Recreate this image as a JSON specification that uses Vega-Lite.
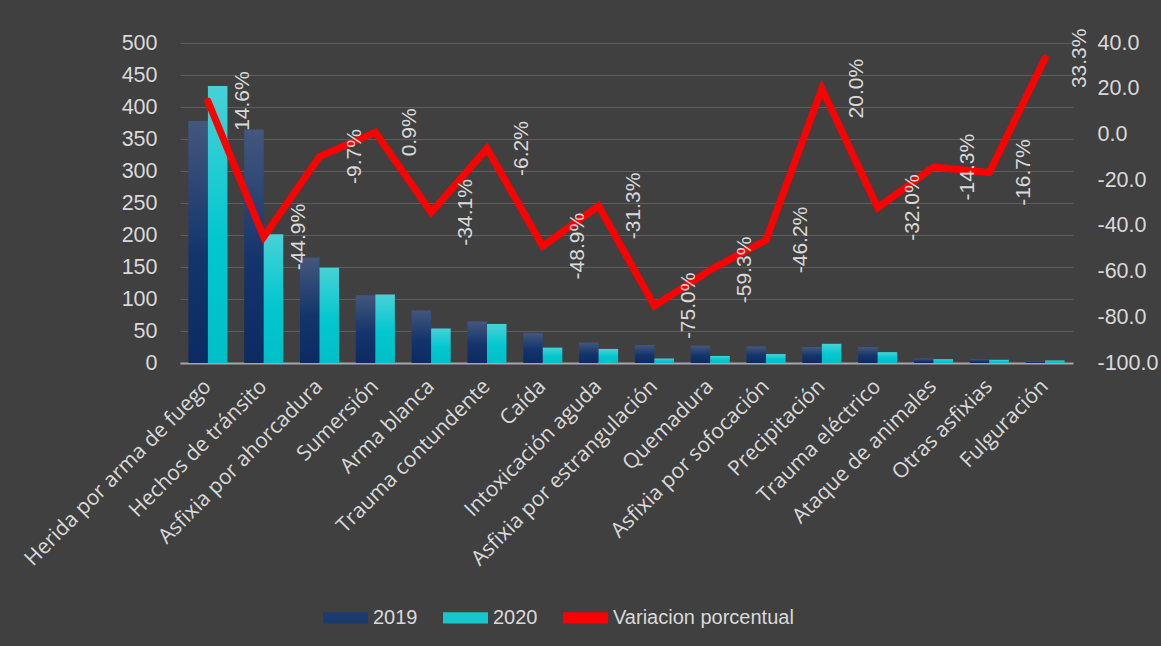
{
  "$schema": "https://vega.github.io/schema/vega-lite/v6.json",
  "width": 893,
  "height": 320,
  "autosize": {"type": "none"},
  "padding": {"left": 180, "top": 43, "right": 88, "bottom": 283},
  "background": "#404040",
  "config": {
    "view": {"stroke": null},
    "font": "Liberation Sans",
    "axis": {"labelColor": "#d9d9d9", "labelFont": "Liberation Sans", "labelFontSize": 21.5, "labelLimit": 0, "ticks": false, "domain": false, "title": null}
  },
  "datasets": {
    "casos": [
      {"causa": "Herida por arma de fuego", "anio": "2019", "casos": 378},
      {"causa": "Herida por arma de fuego", "anio": "2020", "casos": 433},
      {"causa": "Hechos de tránsito", "anio": "2019", "casos": 365},
      {"causa": "Hechos de tránsito", "anio": "2020", "casos": 201},
      {"causa": "Asfixia por ahorcadura", "anio": "2019", "casos": 165},
      {"causa": "Asfixia por ahorcadura", "anio": "2020", "casos": 149},
      {"causa": "Sumersión", "anio": "2019", "casos": 106},
      {"causa": "Sumersión", "anio": "2020", "casos": 107},
      {"causa": "Arma blanca", "anio": "2019", "casos": 82},
      {"causa": "Arma blanca", "anio": "2020", "casos": 54},
      {"causa": "Trauma contundente", "anio": "2019", "casos": 65},
      {"causa": "Trauma contundente", "anio": "2020", "casos": 61},
      {"causa": "Caída", "anio": "2019", "casos": 47},
      {"causa": "Caída", "anio": "2020", "casos": 24},
      {"causa": "Intoxicación aguda", "anio": "2019", "casos": 32},
      {"causa": "Intoxicación aguda", "anio": "2020", "casos": 22},
      {"causa": "Asfixia por estrangulación", "anio": "2019", "casos": 28},
      {"causa": "Asfixia por estrangulación", "anio": "2020", "casos": 7},
      {"causa": "Quemadura", "anio": "2019", "casos": 27},
      {"causa": "Quemadura", "anio": "2020", "casos": 11},
      {"causa": "Asfixia por sofocación", "anio": "2019", "casos": 26},
      {"causa": "Asfixia por sofocación", "anio": "2020", "casos": 14},
      {"causa": "Precipitación", "anio": "2019", "casos": 25},
      {"causa": "Precipitación", "anio": "2020", "casos": 30},
      {"causa": "Trauma eléctrico", "anio": "2019", "casos": 25},
      {"causa": "Trauma eléctrico", "anio": "2020", "casos": 17},
      {"causa": "Ataque de animales", "anio": "2019", "casos": 7},
      {"causa": "Ataque de animales", "anio": "2020", "casos": 6},
      {"causa": "Otras asfixias", "anio": "2019", "casos": 6},
      {"causa": "Otras asfixias", "anio": "2020", "casos": 5},
      {"causa": "Fulguración", "anio": "2019", "casos": 3},
      {"causa": "Fulguración", "anio": "2020", "casos": 4}
    ],
    "variacion": [
      {"causa": "Herida por arma de fuego", "variacion": 14.6, "etiqueta": "14.6%"},
      {"causa": "Hechos de tránsito", "variacion": -44.9, "etiqueta": "-44.9%"},
      {"causa": "Asfixia por ahorcadura", "variacion": -9.7, "etiqueta": "-9.7%"},
      {"causa": "Sumersión", "variacion": 0.9, "etiqueta": "0.9%"},
      {"causa": "Arma blanca", "variacion": -34.1, "etiqueta": "-34.1%"},
      {"causa": "Trauma contundente", "variacion": -6.2, "etiqueta": "-6.2%"},
      {"causa": "Caída", "variacion": -48.9, "etiqueta": "-48.9%"},
      {"causa": "Intoxicación aguda", "variacion": -31.3, "etiqueta": "-31.3%"},
      {"causa": "Asfixia por estrangulación", "variacion": -75.0, "etiqueta": "-75.0%"},
      {"causa": "Quemadura", "variacion": -59.3, "etiqueta": "-59.3%"},
      {"causa": "Asfixia por sofocación", "variacion": -46.2, "etiqueta": "-46.2%"},
      {"causa": "Precipitación", "variacion": 20.0, "etiqueta": "20.0%"},
      {"causa": "Trauma eléctrico", "variacion": -32.0, "etiqueta": "-32.0%"},
      {"causa": "Ataque de animales", "variacion": -14.3, "etiqueta": "-14.3%"},
      {"causa": "Otras asfixias", "variacion": -16.7, "etiqueta": "-16.7%"},
      {"causa": "Fulguración", "variacion": 33.3, "etiqueta": "33.3%"}
    ]
  },
  "encoding": {
    "x": {
      "field": "causa",
      "type": "nominal",
      "scale": {
        "domain": ["Herida por arma de fuego", "Hechos de tránsito", "Asfixia por ahorcadura", "Sumersión", "Arma blanca", "Trauma contundente", "Caída", "Intoxicación aguda", "Asfixia por estrangulación", "Quemadura", "Asfixia por sofocación", "Precipitación", "Trauma eléctrico", "Ataque de animales", "Otras asfixias", "Fulguración"],
        "paddingInner": 0.3,
        "paddingOuter": 0.15
      },
      "axis": {
        "labelAngle": -45,
        "labelAlign": "right",
        "labelBaseline": "middle",
        "labelPadding": 20,
        "labelFont": "Open Sans",
        "labelFontSize": 21,
        "labelLimit": 0,
        "domain": true,
        "domainColor": "#a6a6a6",
        "domainWidth": 2,
        "grid": false
      }
    }
  },
  "layer": [
    {
      "data": {"name": "casos"},
      "encoding": {
        "xOffset": {"field": "anio", "type": "nominal", "scale": {"domain": ["2019", "2020"], "paddingInner": 0, "paddingOuter": 0}},
        "y": {
          "field": "casos",
          "type": "quantitative",
          "scale": {"domain": [0, 500], "nice": false},
          "axis": {
            "orient": "left",
            "values": [0, 50, 100, 150, 200, 250, 300, 350, 400, 450, 500],
            "labelPadding": 23,
            "grid": true,
            "gridColor": "#5e5e5e",
            "gridWidth": 1
          }
        },
        "color": {
          "field": "anio",
          "type": "nominal",
          "scale": {"domain": ["2019", "2020", "Variacion porcentual"], "range": ["#1b3a70", "#17c7cf", "#ff0000"]},
          "legend": {
            "orient": "none",
            "legendX": 143,
            "legendY": 552,
            "direction": "horizontal",
            "title": null,
            "padding": 0,
            "columnPadding": 25,
            "labelOffset": 5,
            "labelLimit": 0,
            "labelColor": "#d9d9d9",
            "labelFont": "Liberation Sans",
            "labelFontSize": 20,
            "symbolSize": 2025,
            "symbolType": "M-1,-0.25H1V0.25H-1Z",
            "encode": {
              "symbols": {
                "update": {
                  "shape": {"condition": {"test": "datum.value === 'Variacion porcentual'", "value": "stroke"}, "value": "M-1,-0.25H1V0.25H-1Z"},
                  "strokeWidth": {"condition": {"test": "datum.value === 'Variacion porcentual'", "value": 6}, "value": 0},
                  "stroke": {"condition": {"test": "datum.value === 'Variacion porcentual'", "value": "#ff0000"}, "value": "transparent"},
                  "strokeCap": {"value": "round"},
                  "opacity": {"value": 1},
                  "fill": {"condition": {"test": "datum.value === '2019'", "value": {"gradient": "linear", "x1": 0, "y1": 0, "x2": 0, "y2": 1, "stops": [{"offset": 0, "color": "#44577d"}, {"offset": 0.6, "color": "#14356c"}, {"offset": 1, "color": "#0d2d63"}]}}, "value": {"gradient": "linear", "x1": 0, "y1": 0, "x2": 0, "y2": 1, "stops": [{"offset": 0, "color": "#3fd0d6"}, {"offset": 1, "color": "#00c3cb"}]}}
                }
              }
            }
          }
        }
      },
      "layer": [
        {
          "transform": [{"filter": "datum.anio === '2019'"}],
          "mark": {
            "type": "bar",
            "fill": {"gradient": "linear", "x1": 0, "y1": 0, "x2": 0, "y2": 1, "stops": [{"offset": 0, "color": "#44577d"}, {"offset": 0.55, "color": "#14356c"}, {"offset": 1, "color": "#0b2b61"}]}
          }
        },
        {
          "transform": [{"filter": "datum.anio === '2020'"}],
          "mark": {
            "type": "bar",
            "fill": {"gradient": "linear", "x1": 0, "y1": 0, "x2": 0, "y2": 1, "stops": [{"offset": 0, "color": "#48d1d7"}, {"offset": 0.55, "color": "#02c7cf"}, {"offset": 1, "color": "#00bfc7"}]}
          }
        }
      ]
    },
    {
      "data": {"name": "variacion"},
      "encoding": {
        "y": {
          "field": "variacion",
          "type": "quantitative",
          "scale": {"domain": [-100, 40], "nice": false},
          "axis": {
            "orient": "right",
            "values": [-100, -80, -60, -40, -20, 0, 20, 40],
            "format": ".1f",
            "labelExpr": "replace(datum.label, '\u2212', '-')",
            "labelPadding": 24,
            "grid": false
          }
        }
      },
      "layer": [
        {
          "mark": {"type": "line", "color": "#ff0000", "strokeWidth": 7, "strokeCap": "round", "strokeJoin": "miter"}
        },
        {
          "mark": {"type": "text", "angle": 270, "dy": 35, "align": "center", "baseline": "middle", "fill": "#d9d9d9", "font": "Liberation Sans", "fontSize": 21},
          "encoding": {"text": {"field": "etiqueta", "type": "nominal"}}
        }
      ]
    }
  ],
  "resolve": {"scale": {"y": "independent"}}
}
